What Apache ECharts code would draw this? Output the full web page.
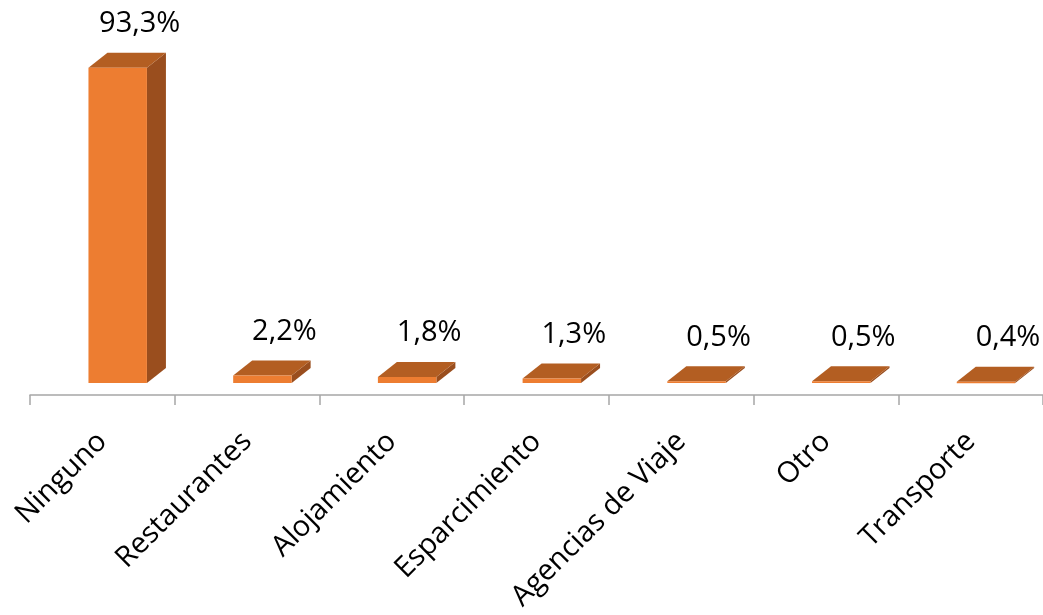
<!DOCTYPE html>
<html>
<head>
<meta charset="utf-8">
<script src="https://cdn.jsdelivr.net/npm/echarts@6/dist/echarts.min.js"></script>
<style>
html,body{margin:0;padding:0;background:#fff;}
#chart{width:1043px;height:615px;}
</style>
</head>
<body>
<div id="chart"></div>
<script>
var categories = ['Ninguno', 'Restaurantes', 'Alojamiento', 'Esparcimiento', 'Agencias de Viaje', 'Otro', 'Transporte'];
var values = [93.3, 2.2, 1.8, 1.3, 0.5, 0.5, 0.4];

var FONT = '"Open Sans", "Noto Sans", sans-serif';
var chart = echarts.init(document.getElementById('chart'));

function fmt(v) { return v.toFixed(1).replace('.', ',') + '%'; }

var DX = 19, DY = -15;

chart.setOption({
  backgroundColor: '#ffffff',
  animation: false,
  grid: { left: 30, top: 57, width: 1022, bottom: 220, containLabel: false },
  xAxis: {
    type: 'category',
    data: categories,
    boundaryGap: true,
    axisLine: { show: true, lineStyle: { color: '#A6A6A6', width: 1.5 } },
    axisTick: { show: true, interval: 0, length: 10, lineStyle: { color: '#A6A6A6', width: 1.5 } },
    axisLabel: { interval: 0, rotate: 45, margin: 42, fontSize: 29, color: '#000', fontFamily: FONT }
  },
  yAxis: { type: 'value', min: 0, max: 100, show: false, splitLine: { show: false } },
  series: [{
    type: 'custom',
    data: values.map(function (v, i) { return [i, v]; }),
    renderItem: function (params, api) {
      var i = api.value(0), v = api.value(1);
      var base = api.coord([i, 0]);
      var topP = api.coord([i, v]);
      var cw = api.size([1, 0])[0];
      var bw = cw * 0.404;
      var cx = base[0] + cw * 0.106;
      var yb = base[1] - 12;
      var yt = topP[1] - 12;
      var x0 = cx - bw / 2, x1 = cx + bw / 2;
      return {
        type: 'group',
        children: [
          { type: 'polygon', shape: { points: [[x1, yb], [x1 + DX, yb + DY], [x1 + DX, yt + DY], [x1, yt]] }, style: { fill: '#9A4E1E' } },
          { type: 'polygon', shape: { points: [[x0, yt], [x1, yt], [x1 + DX, yt + DY], [x0 + DX, yt + DY]] }, style: { fill: '#B35E22' } },
          { type: 'rect', shape: { x: x0, y: yt, width: bw, height: Math.max(yb - yt, 1.5) }, style: { fill: '#ED7D31' } },
          { type: 'text', style: { x: cx + 22, y: yt - 44, text: fmt(v), textAlign: 'center', textVerticalAlign: 'middle', fontSize: 29, fontFamily: FONT, fill: '#000' } }
        ]
      };
    }
  }]
});
</script>
</body>
</html>
